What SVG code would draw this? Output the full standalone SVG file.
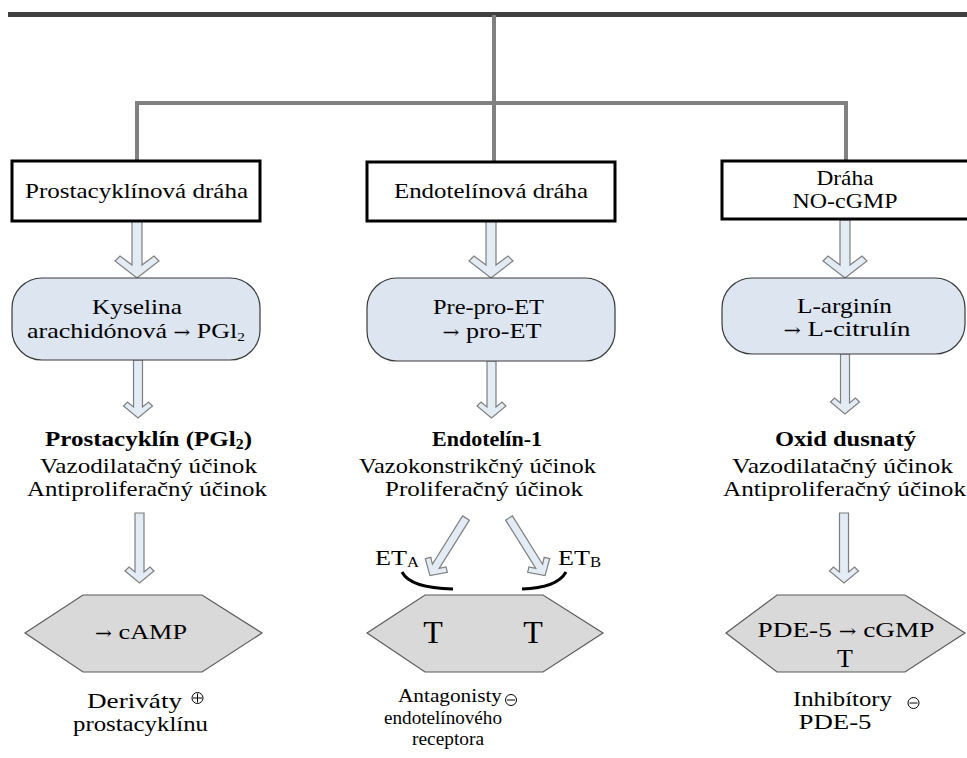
<svg xmlns="http://www.w3.org/2000/svg" width="967" height="758" viewBox="0 0 967 758">
<style>
.t{font-family:"Liberation Serif","Times New Roman",serif;font-size:22px;fill:#000;text-anchor:middle}
.b{font-weight:bold}
.s{font-size:19.5px}
.big{font-size:32px}
.ar{font-family:"DejaVu Serif",serif;font-size:17px}
.box{fill:#fff;stroke:#000;stroke-width:3}
.rr{fill:#dce5f0;stroke:#3a3a3a;stroke-width:1.2}
.hex{fill:#d9d9d9;stroke:#5a5a5a;stroke-width:1.2}
.arr{fill:#e3ebf5;stroke:#7f7f7f;stroke-width:1.2;stroke-linejoin:miter}
.con{fill:none;stroke:#808080;stroke-width:4}
.arc{fill:none;stroke:#000;stroke-width:3}
.sym{fill:none;stroke:#000;stroke-width:1}
</style>
<g id="connectors">
<line x1="8" y1="14.5" x2="967" y2="14.5" stroke="#404040" stroke-width="5"/>
<path class="con" d="M494,15 V162 M137,103 H846 M137,101 V162 M846,101 V162"/>
<path class="arr" d="M132,221 L132,265 L120,256 L115,261 L137,278 L159,261 L154,256 L142,265 L142,221 Z"/>
<path class="arr" d="M486,221 L486,265 L474,256 L469,261 L491,278 L513,261 L508,256 L496,265 L496,221 Z"/>
<path class="arr" d="M840,220 L840,265 L828,256 L823,261 L845,278 L867,261 L862,256 L850,265 L850,220 Z"/>
<path class="arr" d="M133.5,360 L133.5,407 L127.5,402 L123.5,406 L138,418 L152.5,406 L148.5,402 L142.5,407 L142.5,360 Z"/>
<path class="arr" d="M487,361 L487,407 L481,402 L477,406 L491.5,418 L506,406 L502,402 L496,407 L496,361 Z"/>
<path class="arr" d="M840.5,354 L840.5,403 L834.5,398 L830.5,402 L845,414 L859.5,402 L855.5,398 L849.5,403 L849.5,354 Z"/>
<path class="arr" d="M135,513 L135,572 L129,567 L125,571 L139.5,583 L154,571 L150,567 L144,572 L144,513 Z"/>
<path class="arr" d="M839.5,513 L839.5,572 L833.5,567 L829.5,571 L844,583 L858.5,571 L854.5,567 L848.5,572 L848.5,513 Z"/>
<path class="arr" transform="translate(466,518) rotate(32)" d="M-4,0 L-4,57 L-9,52 L-13,56 L0,68 L13,56 L9,52 L4,57 L4,0 Z"/>
<path class="arr" transform="translate(509,518) rotate(-32)" d="M-4,0 L-4,57 L-9,52 L-13,56 L0,68 L13,56 L9,52 L4,57 L4,0 Z"/>
<path class="arc" d="M402,572 Q410,588 453,589"/>
<path class="arc" d="M522,589 Q557,588 566,572"/>
</g>
<g id="box-prostacyklin">
<rect class="box" x="12" y="161" width="248" height="60"/>
<text class="t" x="136.5" y="198" textLength="223" lengthAdjust="spacingAndGlyphs">Prostacyklínová dráha</text>
</g>
<g id="box-endotelin">
<rect class="box" x="367" y="162" width="248" height="59"/>
<text class="t" x="491" y="198" textLength="194" lengthAdjust="spacingAndGlyphs">Endotelínová dráha</text>
</g>
<g id="box-no">
<rect class="box" x="722" y="161" width="252" height="58"/>
<text class="t" x="845" y="185" textLength="57" lengthAdjust="spacingAndGlyphs">Dráha</text>
<text class="t" x="845" y="208" textLength="105" lengthAdjust="spacingAndGlyphs">NO-cGMP</text>
</g>
<g id="rr-kyselina">
<rect class="rr" x="12" y="278" width="248" height="82" rx="30"/>
<text class="t" x="137" y="314" textLength="90" lengthAdjust="spacingAndGlyphs">Kyselina</text>
<text class="t" x="136" y="338" textLength="218" lengthAdjust="spacingAndGlyphs">arachidónová <tspan class="ar">→</tspan> PGl<tspan font-size="13" dy="3">2</tspan></text>
</g>
<g id="rr-preproet">
<rect class="rr" x="367" y="278" width="248" height="83" rx="30"/>
<text class="t" x="488.5" y="314" textLength="111" lengthAdjust="spacingAndGlyphs">Pre-pro-ET</text>
<text class="t" x="492" y="338" textLength="99" lengthAdjust="spacingAndGlyphs"><tspan class="ar">→</tspan> pro-ET</text>
</g>
<g id="rr-arginin">
<rect class="rr" x="722" y="278" width="243" height="76" rx="30"/>
<text class="t" x="844.5" y="313" textLength="95" lengthAdjust="spacingAndGlyphs">L-arginín</text>
<text class="t" x="847" y="336" textLength="127" lengthAdjust="spacingAndGlyphs"><tspan class="ar">→</tspan> L-citrulín</text>
</g>
<g id="txt-prostacyklin">
<text class="t b" x="148.5" y="446" textLength="207" lengthAdjust="spacingAndGlyphs">Prostacyklín (PGl<tspan font-size="14" dy="3">2</tspan><tspan dy="-3">)</tspan></text>
<text class="t" x="148.5" y="473" textLength="217" lengthAdjust="spacingAndGlyphs">Vazodilatačný účinok</text>
<text class="t" x="147" y="496" textLength="240" lengthAdjust="spacingAndGlyphs">Antiproliferačný účinok</text>
</g>
<g id="txt-endotelin">
<text class="t b" x="487" y="446" textLength="110" lengthAdjust="spacingAndGlyphs">Endotelín-1</text>
<text class="t" x="477.5" y="473" textLength="237" lengthAdjust="spacingAndGlyphs">Vazokonstrikčný účinok</text>
<text class="t" x="484" y="496" textLength="198" lengthAdjust="spacingAndGlyphs">Proliferačný účinok</text>
</g>
<g id="txt-oxid">
<text class="t b" x="845.5" y="446" textLength="141" lengthAdjust="spacingAndGlyphs">Oxid dusnatý</text>
<text class="t" x="842.5" y="473" textLength="221" lengthAdjust="spacingAndGlyphs">Vazodilatačný účinok</text>
<text class="t" x="844.5" y="496" textLength="243" lengthAdjust="spacingAndGlyphs">Antiproliferačný účinok</text>
</g>
<g id="lbl-eta">
<text class="t" x="375" y="565" style="text-anchor:start" textLength="44" lengthAdjust="spacingAndGlyphs">ET<tspan font-size="14" dy="2">A</tspan></text>
</g>
<g id="lbl-etb">
<text class="t" x="558" y="565" style="text-anchor:start" textLength="43" lengthAdjust="spacingAndGlyphs">ET<tspan font-size="14" dy="2">B</tspan></text>
</g>
<g id="hex-camp">
<polygon class="hex" points="25,633 83,595 202,595 262,633 202,672 83,672"/>
<text class="t" x="141" y="639" textLength="92" lengthAdjust="spacingAndGlyphs"><tspan class="ar">→</tspan> cAMP</text>
</g>
<g id="hex-et">
<polygon class="hex" points="367,633 425,595 543,595 603,633 543,672 425,672"/>
<text class="t big" x="433" y="643">T</text>
<text class="t big" x="533" y="643">T</text>
</g>
<g id="hex-pde">
<polygon class="hex" points="726,633 777,595 905,595 965,633 905,672 777,672"/>
<text class="t" x="846" y="637" textLength="177" lengthAdjust="spacingAndGlyphs">PDE-5 <tspan class="ar">→</tspan> cGMP</text>
<text class="t" x="845" y="667" style="font-size:26px">T</text>
</g>
<g id="lbl-derivaty">
<text class="t" x="134.5" y="708" textLength="95" lengthAdjust="spacingAndGlyphs">Deriváty</text>
<circle class="sym" cx="197.5" cy="698" r="5.5"/>
<path class="sym" d="M193,698 H202 M197.5,693.5 V702.5"/>
<text class="t" x="140.5" y="731" textLength="135" lengthAdjust="spacingAndGlyphs">prostacyklínu</text>
</g>
<g id="lbl-antagonisty">
<text class="t s" x="450" y="702" textLength="104" lengthAdjust="spacingAndGlyphs">Antagonisty</text>
<circle class="sym" cx="511" cy="700" r="5.5"/>
<path class="sym" d="M507,700 H515"/>
<text class="t s" x="443" y="724" textLength="118" lengthAdjust="spacingAndGlyphs">endotelínového</text>
<text class="t s" x="448" y="745" textLength="72" lengthAdjust="spacingAndGlyphs">receptora</text>
</g>
<g id="lbl-inhibitory">
<text class="t" x="842.5" y="706" textLength="99" lengthAdjust="spacingAndGlyphs">Inhibítory</text>
<circle class="sym" cx="913.5" cy="703" r="5.5"/>
<path class="sym" d="M909.5,703 H917.5"/>
<text class="t" x="835" y="729" textLength="73" lengthAdjust="spacingAndGlyphs">PDE-5</text>
</g>
</svg>
